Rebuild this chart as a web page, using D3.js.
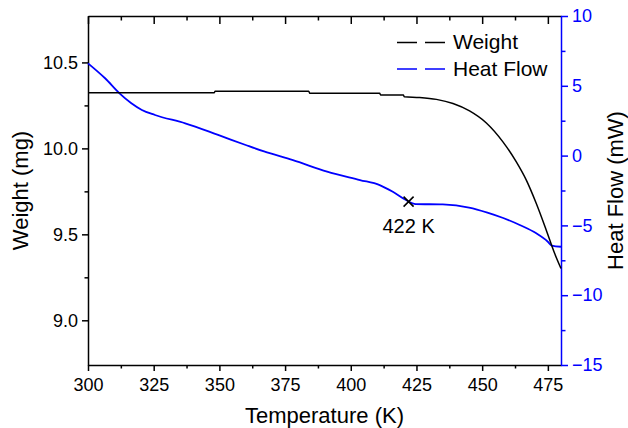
<!DOCTYPE html>
<html>
<head>
<meta charset="utf-8">
<script src="https://cdn.jsdelivr.net/npm/d3@7"></script>
<style>
  body { margin: 0; background: #fff; }
  svg text { font-family: "Liberation Sans", Arial, sans-serif; }
</style>
</head>
<body>
<svg id="chart" width="628" height="428"></svg>
<script>
// TGA / DSC run: sample weight and heat flow against temperature
const weightTemp = [300, 348, 348.4, 384, 384.4, 411, 411.4, 420, 420.4, 426.2, 432.6, 438.9, 445.2, 451.6, 457.9, 463, 466.8, 470.6, 474.4, 477.6, 480];
const weightMg   = [10.323, 10.323, 10.333, 10.333, 10.320, 10.320, 10.310, 10.310, 10.300, 10.296, 10.285, 10.261, 10.218, 10.148, 10.038, 9.921, 9.815, 9.679, 9.524, 9.388, 9.301];

const heatTemp = [300, 306.5, 312, 316.5, 320.5, 325.5, 337, 349.5, 360, 367, 378, 391, 403.5, 411, 416, 421, 424.7, 435, 445, 452, 458, 464.3, 470.6, 475, 476.5, 480];
const heatFlow = [6.61, 5.54, 4.46, 3.75, 3.27, 2.91, 2.31, 1.48, 0.76, 0.30, -0.32, -1.15, -1.75, -2.11, -2.59, -3.18, -3.47, -3.50, -3.72, -4.08, -4.47, -4.97, -5.57, -6.17, -6.45, -6.53];

const tempTicks   = [300, 325, 350, 375, 400, 425, 450, 475];
const tempMinor   = [312.5, 337.5, 362.5, 387.5, 412.5, 437.5, 462.5];
const weightTicks = [9.0, 9.5, 10.0, 10.5];
const weightMinor = [9.25, 9.75, 10.25];
const heatTicks   = [-15, -10, -5, 0, 5, 10];
const heatMinor   = [-12.5, -7.5, -2.5, 2.5, 7.5];

const peakTemp = 422, peakFlow = -3.3, peakLabel = "422 K";
const seriesNames = ["Weight", "Heat Flow"];
const seriesColors = ["#000000", "#0000ff"];

const svg = d3.select("#chart");
const box = { left: 88, right: 561, top: 16, bottom: 365 };

const x  = d3.scaleLinear().domain([300, 480]).range([box.left, box.right]);
const yW = d3.scaleLinear().domain([8.74, 10.77]).range([box.bottom, box.top]);
const yH = d3.scaleLinear().domain([-15, 10]).range([box.bottom, box.top]);

function styleAxis(g, color, fontSize) {
  g.selectAll("path, line").attr("stroke", color).attr("stroke-width", 1.5);
  g.selectAll("text").attr("fill", color).style("font-size", fontSize + "px");
}
function noDomain(g) { g.select(".domain").remove(); }

// bottom axis
svg.append("g").attr("transform", `translate(0,${box.bottom})`)
  .call(d3.axisBottom(x).tickValues(tempTicks).tickSize(6).tickSizeOuter(0).tickPadding(7).tickFormat(d3.format("d")))
  .call(g => styleAxis(g, "#000", 18));
svg.append("g").attr("transform", `translate(0,${box.bottom})`)
  .call(d3.axisBottom(x).tickValues(tempMinor).tickSize(3.5).tickFormat(""))
  .call(noDomain).call(g => styleAxis(g, "#000", 18));

// top frame with inward ticks
svg.append("g").attr("transform", `translate(0,${box.top})`)
  .call(d3.axisBottom(x).tickValues(tempTicks).tickSize(8).tickSizeOuter(0).tickFormat(""))
  .call(g => styleAxis(g, "#000", 18));
svg.append("g").attr("transform", `translate(0,${box.top})`)
  .call(d3.axisBottom(x).tickValues(tempMinor).tickSize(4.5).tickFormat(""))
  .call(noDomain).call(g => styleAxis(g, "#000", 18));

// left axis: weight
svg.append("g").attr("transform", `translate(${box.left},0)`)
  .call(d3.axisLeft(yW).tickValues(weightTicks).tickSize(6).tickSizeOuter(0).tickPadding(4).tickFormat(d3.format(".1f")))
  .call(g => styleAxis(g, "#000", 18));
svg.append("g").attr("transform", `translate(${box.left},0)`)
  .call(d3.axisLeft(yW).tickValues(weightMinor).tickSize(3.5).tickFormat(""))
  .call(noDomain).call(g => styleAxis(g, "#000", 18));

// right axis: heat flow
svg.append("g").attr("transform", `translate(${box.right},0)`)
  .call(d3.axisRight(yH).tickValues(heatTicks).tickSize(7).tickSizeOuter(0).tickPadding(4).tickFormat(d3.format("d")))
  .call(g => styleAxis(g, "#0000ff", 18));
svg.append("g").attr("transform", `translate(${box.right},0)`)
  .call(d3.axisRight(yH).tickValues(heatMinor).tickSize(4.5).tickFormat(""))
  .call(noDomain).call(g => styleAxis(g, "#0000ff", 18));

// axis titles
svg.append("text").attr("x", (box.left + box.right) / 2).attr("y", 423)
  .attr("text-anchor", "middle").style("font-size", "22px").text("Temperature (K)");
svg.append("text").attr("transform", `translate(28,${(box.top + box.bottom) / 2}) rotate(-90)`)
  .attr("text-anchor", "middle").style("font-size", "22px").text("Weight (mg)");
svg.append("text").attr("transform", `translate(623,${(box.top + box.bottom) / 2}) rotate(-90)`)
  .attr("text-anchor", "middle").style("font-size", "22px").text("Heat Flow (mW)");

// curves
const weightData = weightTemp.map((t, i) => [t, weightMg[i]]);
const heatData = heatTemp.map((t, i) => [t, heatFlow[i]]);

svg.append("path").datum(heatData)
  .attr("fill", "none").attr("stroke", seriesColors[1]).attr("stroke-width", 1.8)
  .attr("d", d3.line().x(d => x(d[0])).y(d => yH(d[1])).curve(d3.curveMonotoneX));

svg.append("path").datum(weightData)
  .attr("fill", "none").attr("stroke", seriesColors[0]).attr("stroke-width", 1.5)
  .attr("d", d3.line().x(d => x(d[0])).y(d => yW(d[1])).curve(d3.curveMonotoneX));

// transition marker
const px = x(peakTemp), py = yH(peakFlow);
svg.append("path")
  .attr("d", `M${px - 5},${py - 5}L${px + 5},${py + 5}M${px - 5},${py + 5}L${px + 5},${py - 5}`)
  .attr("stroke", "#000").attr("stroke-width", 1.6).attr("fill", "none");
svg.append("text").attr("x", px).attr("y", py + 31)
  .attr("text-anchor", "middle").style("font-size", "20px").text(peakLabel);

// legend
const legend = svg.append("g");
seriesNames.forEach((name, i) => {
  const ly = 42.5 + i * 26.5;
  legend.append("line").attr("x1", 397).attr("x2", 447).attr("y1", ly).attr("y2", ly)
    .attr("stroke", seriesColors[i]).attr("stroke-width", 1.5).attr("stroke-dasharray", "20,8");
  legend.append("text").attr("x", 453).attr("y", ly + 6.5)
    .style("font-size", "21px").text(name);
});
</script>
</body>
</html>
